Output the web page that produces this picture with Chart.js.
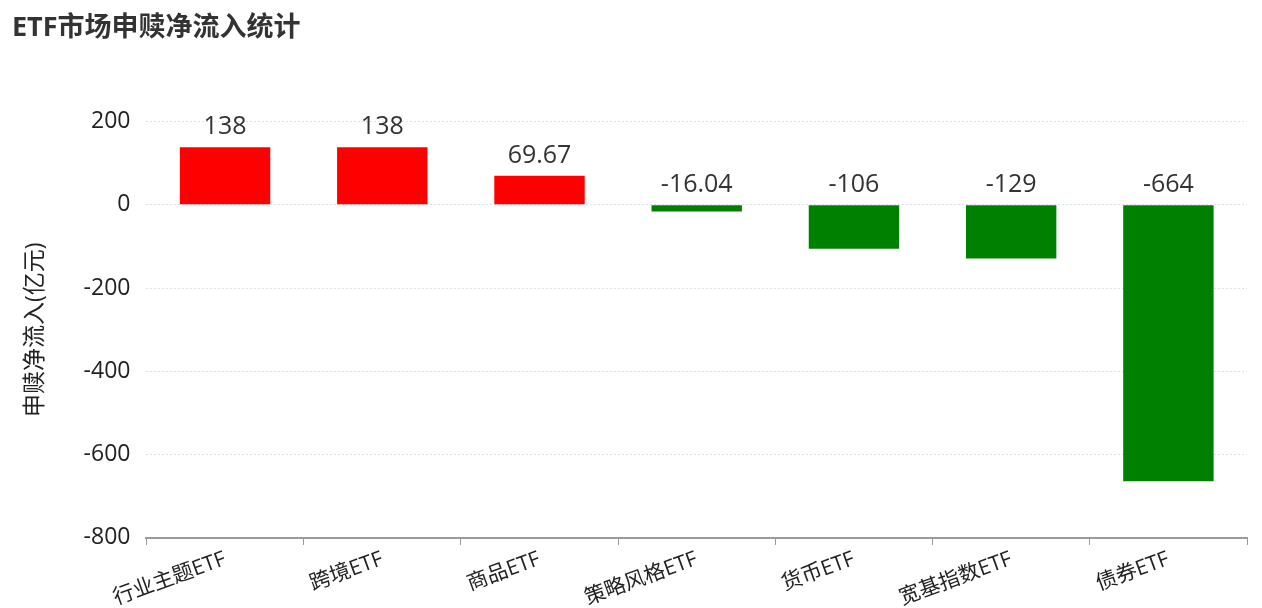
<!DOCTYPE html>
<html>
<head>
<meta charset="utf-8">
<script src="https://cdn.jsdelivr.net/npm/chart.js@4/dist/chart.umd.min.js"></script>
<style>
    html, body { margin: 0; padding: 0; background: #fff; }
    #wrap { width: 1262px; height: 608px; position: relative; }
</style>
</head>
<body>
<div id="wrap"><canvas id="flow-chart"></canvas></div>
<script>
// 数据
const categories = ['行业主题ETF', '跨境ETF', '商品ETF', '策略风格ETF', '货币ETF', '宽基指数ETF', '债券ETF'];
const netFlows = [138, 138, 69.67, -16.04, -106, -129, -664];
const yTicks = [-800, -600, -400, -200, 0, 200];

const FONT = "'Open Sans', 'Noto Sans CJK SC', sans-serif";

// 柱顶数值标签
const valueLabels = {
    id: 'valueLabels',
    afterDatasetsDraw(chart) {
        const ctx = chart.ctx;
        const meta = chart.getDatasetMeta(0);
        ctx.save();
        ctx.font = '25px ' + FONT;
        ctx.fillStyle = '#333';
        ctx.textAlign = 'center';
        ctx.textBaseline = 'alphabetic';
        meta.data.forEach((bar, i) => {
            const v = chart.data.datasets[0].data[i];
            const top = v >= 0 ? bar.y : bar.base;
            ctx.fillText(String(v), bar.x, top - 13);
        });
        ctx.restore();
    }
};

new Chart(document.getElementById('flow-chart'), {
    type: 'bar',
    data: {
        labels: categories,
        datasets: [{
            data: netFlows,
            backgroundColor: netFlows.map(v => v >= 0 ? '#ff0000' : '#008000'),
            barPercentage: 1,
            categoryPercentage: 0.575
        }]
    },
    options: {
        responsive: true,
        maintainAspectRatio: false,
        animation: false,
        layout: {
            padding: { left: 12, right: 15, top: 0, bottom: -5 }
        },
        plugins: {
            legend: { display: false },
            tooltip: { enabled: false },
            title: {
                display: true,
                text: 'ETF市场申赎净流入统计',
                align: 'start',
                color: '#333',
                font: { family: FONT, size: 27, weight: 'bold' },
                padding: { top: 12, bottom: 77 }
            }
        },
        scales: {
            x: {
                grid: {
                    display: true,
                    drawOnChartArea: false,
                    drawTicks: true,
                    tickLength: 7,
                    color: '#999',
                    offset: true
                },
                border: { display: true, color: '#999', width: 2 },
                ticks: {
                    color: '#222',
                    font: { family: FONT, size: 21 },
                    minRotation: 20,
                    maxRotation: 20,
                    padding: 2,
                    autoSkip: false
                }
            },
            y: {
                min: yTicks[0],
                max: yTicks[yTicks.length - 1],
                afterBuildTicks(axis) {
                    axis.ticks = yTicks.map(v => ({ value: v }));
                },
                grid: {
                    color: '#dde0e8',
                    drawTicks: false
                },
                border: { display: false, dash: [2, 2] },
                ticks: {
                    color: '#222',
                    font: { family: FONT, size: 23 },
                    padding: 16
                },
                title: {
                    display: true,
                    text: '申赎净流入(亿元)',
                    color: '#222',
                    font: { family: FONT, size: 23 },
                    padding: { top: 10, bottom: 18 }
                }
            }
        }
    },
    plugins: [valueLabels]
});
</script>
</body>
</html>
